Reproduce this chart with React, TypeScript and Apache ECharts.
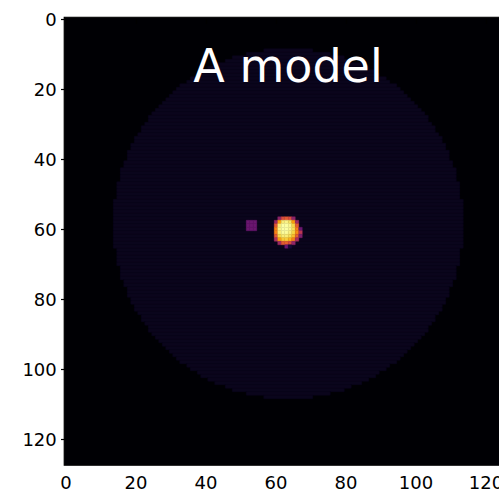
import React, { useEffect, useRef } from "react";
import * as echarts from "echarts";

// ---- data (image is 128 x 128 pixels, values on a 0..1 colour scale) ----
const imageSize = 128;
const xTicks = [0, 20, 40, 60, 80, 100, 120];
const yTicks = [0, 20, 40, 60, 80, 100, 120];
const titleText = "A model";

// the faint disk of the model
const diskCenterCol = 63.5;
const diskCenterRow = 58.5;
const diskRadius = 50;
const diskLevel = 0.045;

// the bright source: rows 57..65, columns 60..67
const spotRows = [57, 58, 59, 60, 61, 62, 63, 64, 65];
const spotCols = [60, 61, 62, 63, 64, 65, 66, 67];
const spotValues = [
  [0.05, 0.38, 0.58, 0.62, 0.58, 0.38, 0.05, 0.05],
  [0.42, 0.8, 0.95, 0.97, 0.93, 0.78, 0.42, 0.05],
  [0.62, 0.95, 1.0, 1.0, 0.98, 0.9, 0.62, 0.05],
  [0.72, 0.97, 1.0, 1.0, 0.98, 0.92, 0.72, 0.3],
  [0.72, 0.95, 0.99, 0.99, 0.96, 0.9, 0.74, 0.5],
  [0.62, 0.9, 0.95, 0.95, 0.92, 0.85, 0.64, 0.35],
  [0.45, 0.78, 0.87, 0.88, 0.83, 0.72, 0.45, 0.05],
  [0.05, 0.42, 0.62, 0.64, 0.57, 0.4, 0.05, 0.05],
  [0.05, 0.05, 0.05, 0.3, 0.1, 0.05, 0.05, 0.05],
];

// the small purple square
const squareRows = [58, 59, 60];
const squareCols = [52, 53, 54];
const squareLevel = 0.3;

// inferno colour map stops
const infernoStops = [
  "#000004", "#160b39", "#420a68", "#6a176e", "#932667", "#bc3754",
  "#dd513a", "#f37819", "#fca50a", "#f6d746", "#fcffa4",
];

function buildCells(): number[][] {
  const cells: number[][] = [];
  for (let r = 0; r < imageSize; r++) {
    const dy = r - diskCenterRow;
    if (Math.abs(dy) > diskRadius) continue;
    const h = Math.sqrt(diskRadius * diskRadius - dy * dy);
    const c0 = Math.ceil(diskCenterCol - h);
    const c1 = Math.floor(diskCenterCol + h);
    if (c1 >= c0) cells.push([c0, c1, r, diskLevel]);
  }
  squareRows.forEach((r) =>
    squareCols.forEach((c) => cells.push([c, c, r, squareLevel]))
  );
  spotRows.forEach((r, i) =>
    spotCols.forEach((c, j) => {
      const v = spotValues[i][j];
      if (v > 0.05) cells.push([c, c, r, v]);
    })
  );
  return cells;
}

export default function App() {
  const ref = useRef<HTMLDivElement>(null);
  useEffect(() => {
    if (!ref.current) return;
    const chart = echarts.init(ref.current, undefined, { renderer: "svg" });
    const labelStyle = {
      color: "#000",
      fontSize: 18,
      fontFamily: "DejaVu Sans",
    };
    const tickStyle = {
      show: true,
      length: 5,
      lineStyle: { color: "#000", width: 1.2 },
    };
    chart.setOption({
      animation: false,
      backgroundColor: "#ffffff",
      grid: {
        left: 64.25,
        top: 17.25,
        width: 448,
        height: 448,
        outerBoundsMode: "none",
        containLabel: false,
        show: true,
        backgroundColor: "#000004",
        borderColor: "#000",
        borderWidth: 1.2,
      },
      xAxis: {
        type: "value",
        min: -0.5,
        max: imageSize - 0.5,
        position: "bottom",
        axisLine: { show: false },
        splitLine: { show: false },
        axisTick: { ...tickStyle, customValues: xTicks },
        axisLabel: { ...labelStyle, margin: 8, customValues: xTicks },
      },
      yAxis: {
        type: "value",
        inverse: true,
        min: -0.5,
        max: imageSize - 0.5,
        axisLine: { show: false },
        splitLine: { show: false },
        axisTick: { ...tickStyle, customValues: yTicks },
        axisLabel: { ...labelStyle, margin: 7.5, customValues: yTicks },
      },
      visualMap: {
        type: "continuous",
        show: false,
        min: 0,
        max: 1,
        dimension: 3,
        seriesIndex: 0,
        inRange: { color: infernoStops },
      },
      series: [
        {
          type: "custom",
          data: buildCells(),
          encode: { x: [0, 1], y: 2 },
          renderItem: (params: any, api: any) => {
            const x0 = api.value(0);
            const x1 = api.value(1);
            const r = api.value(2);
            const p0 = api.coord([x0 - 0.5, r - 0.5]);
            const p1 = api.coord([x1 + 0.5, r + 0.5]);
            const color = api.visual("color");
            return {
              type: "rect",
              shape: {
                x: Math.min(p0[0], p1[0]),
                y: Math.min(p0[1], p1[1]),
                width: Math.abs(p1[0] - p0[0]),
                height: Math.abs(p1[1] - p0[1]),
              },
              style: { fill: color, stroke: color, lineWidth: 0.4 },
            };
          },
        },
      ],
      graphic: [
        {
          type: "text",
          x: 288,
          y: 66,
          z: 100,
          style: {
            text: titleText,
            fill: "#ffffff",
            font: "46px 'DejaVu Sans'",
            textAlign: "center",
            textVerticalAlign: "middle",
          },
        },
      ],
    });
    return () => chart.dispose();
  }, []);
  return (
    <div
      ref={ref}
      style={{ position: "fixed", left: 0, top: 0, width: 499, height: 494 }}
    />
  );
}
